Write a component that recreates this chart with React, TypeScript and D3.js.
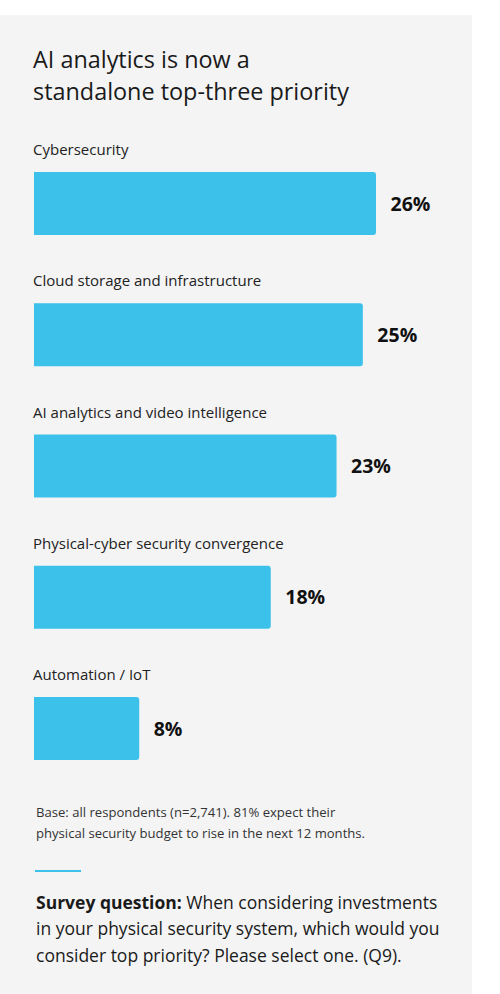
import { useEffect, useRef } from "react"
import * as d3 from "d3"

const categories = [
  "Cybersecurity",
  "Cloud storage and infrastructure",
  "AI analytics and video intelligence",
  "Physical-cyber security convergence",
  "Automation / IoT",
]
const values = [26, 25, 23, 18, 8]

const titleLines = ["AI analytics is now a", "standalone top-three priority"]
const baseNote = [
  "Base: all respondents (n=2,741). 81% expect their",
  "physical security budget to rise in the next 12 months.",
]
const questionLines = [
  "When considering investments",
  "in your physical security system, which would you",
  "consider top priority? Please select one. (Q9).",
]

const FONT = "'Open Sans', Lato, sans-serif"
const BLUE = "#3bc1ea"

export default function App() {
  const svgRef = useRef<SVGSVGElement>(null)

  useEffect(() => {
    if (!svgRef.current) return
    const svg = d3.select(svgRef.current)
    svg.selectAll("*").remove()

    // panel background
    svg.append("rect").attr("x", 0).attr("y", 15).attr("width", 472).attr("height", 979).attr("fill", "#f4f4f4")

    // title
    svg.append("g")
      .selectAll("text")
      .data(titleLines)
      .enter()
      .append("text")
      .attr("x", 33)
      .attr("y", (_, i) => 68 + i * 32)
      .attr("fill", "#1a1a1a")
      .style("font-family", FONT)
      .style("font-size", "23.4px")
      .text((d) => d)

    const data = categories.map((c, i) => ({ label: c, value: values[i] }))

    const y = d3.scaleBand<string>().domain(categories).range([172, 760]).paddingInner(0.52).paddingOuter(0)
    const x = d3.scaleLinear().domain([0, 26]).range([34, 376])

    const g = svg.append("g")

    // category labels
    g.selectAll(".cat-label")
      .data(data)
      .enter()
      .append("text")
      .attr("class", "cat-label")
      .attr("x", 33)
      .attr("y", (d) => (y(d.label) as number) - 17)
      .attr("fill", "#222")
      .style("font-family", FONT)
      .style("font-size", "15px")
      .text((d) => d.label)

    // bars: square left, rounded right
    const r = 3
    g.selectAll(".bar")
      .data(data)
      .enter()
      .append("path")
      .attr("class", "bar")
      .attr("fill", BLUE)
      .attr("d", (d) => {
        const x0 = x(0)
        const x1 = x(d.value)
        const y0 = y(d.label) as number
        const y1 = y0 + y.bandwidth()
        return `M${x0},${y0}H${x1 - r}Q${x1},${y0} ${x1},${y0 + r}V${y1 - r}Q${x1},${y1} ${x1 - r},${y1}H${x0}Z`
      })

    // value labels
    g.selectAll(".val-label")
      .data(data)
      .enter()
      .append("text")
      .attr("class", "val-label")
      .attr("x", (d) => x(d.value) + 14.5)
      .attr("y", (d) => (y(d.label) as number) + y.bandwidth() / 2 + 7)
      .attr("fill", "#111")
      .style("font-family", FONT)
      .style("font-weight", "700")
      .style("font-size", "19.5px")
      .text((d) => `${d.value}%`)

    // base note
    svg.append("g")
      .selectAll("text")
      .data(baseNote)
      .enter()
      .append("text")
      .attr("x", 36)
      .attr("y", (_, i) => 817 + i * 21)
      .attr("fill", "#333")
      .style("font-family", FONT)
      .style("font-size", "13.1px")
      .text((d) => d)

    // short blue rule
    svg.append("line").attr("x1", 35).attr("x2", 81).attr("y1", 871).attr("y2", 871).attr("stroke", BLUE).attr("stroke-width", 2)

    // survey question
    const q = svg.append("g").style("font-family", FONT).style("font-size", "17.5px").attr("fill", "#1a1a1a")
    questionLines.forEach((line, i) => {
      const t = q.append("text").attr("x", 36).attr("y", 909 + i * 26.3)
      if (i === 0) {
        t.append("tspan").style("font-weight", "700").text("Survey question: ")
      }
      t.append("tspan").text(line)
    })
  }, [])

  return (
    <div style={{ position: "absolute", left: 0, top: 0, width: 500, height: 994, background: "#fff" }}>
      <svg ref={svgRef} width={500} height={994} style={{ display: "block" }} />
    </div>
  )
}
